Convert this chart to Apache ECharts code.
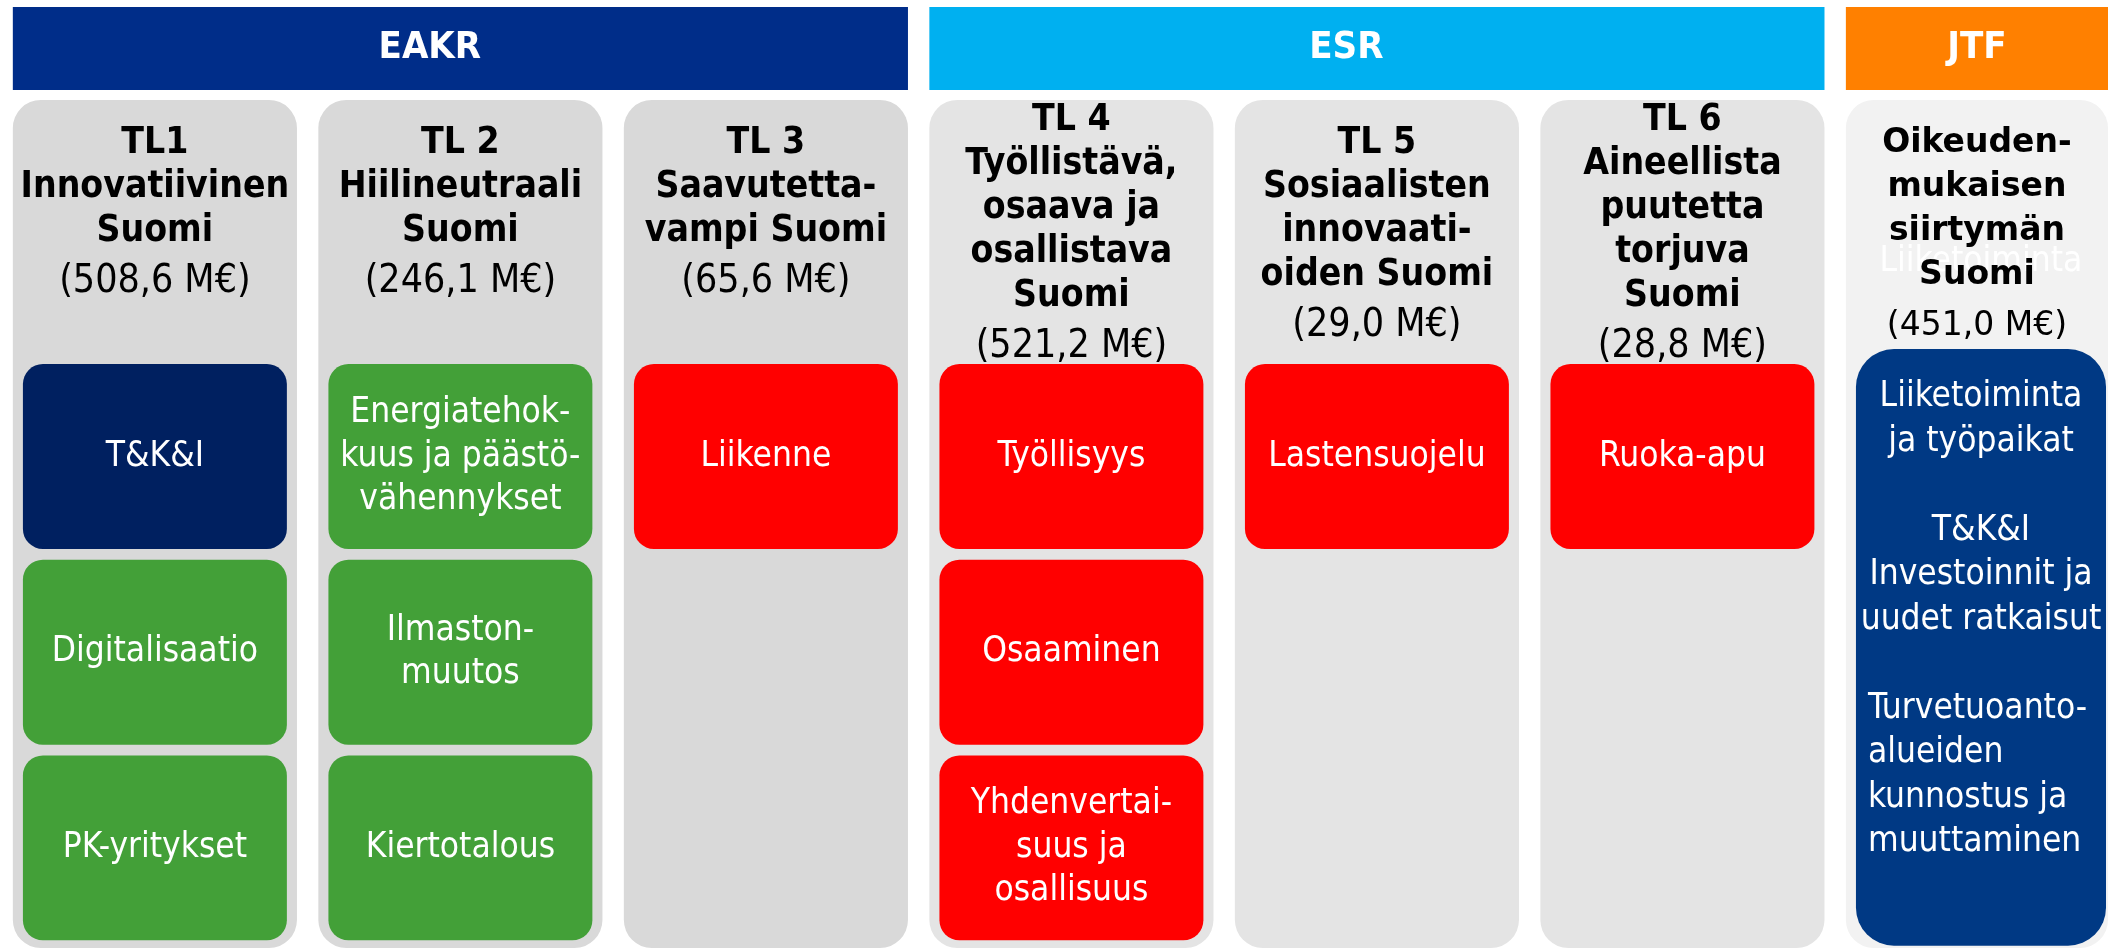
<!DOCTYPE html>
<html>
<head>
<meta charset="utf-8">
<title>Toimintalinjat 2021–2027</title>
<script src="https://cdn.jsdelivr.net/npm/echarts@6/dist/echarts.min.js"></script>
<style>
  html, body { margin: 0; padding: 0; background: #fff; }
  #chart { width: 2108px; height: 951px; }
</style>
</head>
<body>
<div id="chart"></div>
<script>
// rahastot
const fundNames = ['EAKR', 'ESR', 'JTF']
const fundFirstCol = [0, 3, 6]
const fundLastCol = [2, 5, 6]

// toimintalinjat
const axisTitles = [
  'TL1\nInnovatiivinen\nSuomi',
  'TL 2\nHiilineutraali\nSuomi',
  'TL 3\nSaavutetta-\nvampi Suomi',
  'TL 4\nTyöllistävä,\nosaava ja\nosallistava\nSuomi',
  'TL 5\nSosiaalisten\ninnovaati-\noiden Suomi',
  'TL 6\nAineellista\npuutetta\ntorjuva\nSuomi',
  'Oikeuden-\nmukaisen\nsiirtymän\nSuomi'
]
const axisBudget = [508.6, 246.1, 65.6, 521.2, 29.0, 28.8, 451.0] // M€
const axisFund = [0, 0, 0, 1, 1, 1, 2]

// teemat laatikoissa
const topicCol = [0, 0, 0, 1, 1, 1, 2, 3, 3, 3, 4, 5]
const topicRow = [0, 1, 2, 0, 1, 2, 0, 0, 1, 2, 0, 0]
const topicLabels = [
  'T&K&I', 'Digitalisaatio', 'PK-yritykset',
  'Energiatehok-\nkuus ja päästö-\nvähennykset', 'Ilmaston-\nmuutos', 'Kiertotalous',
  'Liikenne',
  'Työllisyys', 'Osaaminen', 'Yhdenvertai-\nsuus ja\nosallisuus',
  'Lastensuojelu',
  'Ruoka-apu'
]
const topicTheme = ['tki', 'green', 'green', 'green', 'green', 'green', 'red', 'red', 'red', 'red', 'red', 'red']

// JTF:n iso laatikko
const jtfCol = 6
const jtfTopics = ['Liiketoiminta\nja työpaikat', 'T&K&I\nInvestoinnit ja\nuudet ratkaisut', 'Turvetuoanto-\nalueiden\nkunnostus ja\nmuuttaminen']

// --- tyylit ja asettelu ---
const FUND_COLORS = ['#002D89', '#00B0F0', '#FF8000']
const COLUMN_FILL = ['#D9D9D9', '#E4E4E4', '#F2F2F2']
const THEME_COLORS = { tki: '#002060', green: '#43A038', red: '#FF0000' }
const JTF_BOX = '#003984'
const NARROW = "'DejaVu Sans Condensed', 'Liberation Sans', sans-serif"
const WIDE = "'DejaVu Sans', Verdana, sans-serif"

const L = {
  xMin: -0.507, xMax: 6.393,
  yMin: -2.333, yMax: 2.527,
  headTop: -2.297, headBottom: -1.873,
  colTop: -1.822, colBottom: 2.512,
  colWidth: 0.93,
  boxWidth: 0.864, boxHeight: 0.945,
  jtfTop: -0.549, jtfBottom: 2.5
}

const fmt = v => '(' + v.toFixed(1).replace('.', ',') + ' M€)'

function renderFund (params, api) {
  const cs = params.coordSys
  const first = api.value(0)
  const last = api.value(1)
  const i = api.value(2)
  const a = api.coord([first - L.colWidth / 2, L.headTop])
  const b = api.coord([last + L.colWidth / 2, L.headBottom])
  const x1 = Math.min(b[0], cs.x + cs.width)
  const shift = last > first ? -api.size([0.1, 0])[0] : 0
  return {
    type: 'group',
    children: [
      { type: 'rect', shape: { x: a[0], y: a[1], width: x1 - a[0], height: b[1] - a[1] }, style: { fill: FUND_COLORS[i] } },
      {
        type: 'text',
        style: {
          text: fundNames[i], x: (a[0] + x1) / 2 + shift, y: (a[1] + b[1]) / 2,
          align: 'center', verticalAlign: 'middle',
          fill: '#fff', font: 'bold 38px ' + NARROW
        }
      }
    ]
  }
}

function renderColumn (params, api) {
  const cs = params.coordSys
  const i = api.value(0)
  const fund = axisFund[i]
  const top = api.coord([i, L.colTop])
  const bot = api.coord([i, L.colBottom])
  const half = api.size([L.colWidth, 0])[0] / 2
  const x0 = top[0] - half
  const x1 = Math.min(top[0] + half, cs.x + cs.width)
  const cx = (x0 + x1) / 2
  const lines = axisTitles[i].split('\n')
  const wide = fund === 2
  const family = wide ? WIDE : NARROW
  const text = lines.map(s => '{t|' + s + '}').join('\n') + '\n{a|' + fmt(axisBudget[i]) + '}'
  const children = [
    { type: 'rect', shape: { x: x0, y: top[1], width: x1 - x0, height: bot[1] - top[1], r: 28 }, style: { fill: COLUMN_FILL[fund] } }
  ]
  if (i === jtfCol) {
    // haamuteksti sarakkeen takana
    children.push({
      type: 'text',
      style: { text: jtfTopics[0].split('\n')[0], x: cx + 4, y: top[1] + 162, align: 'center', verticalAlign: 'middle', fill: '#FFFFFF', font: '35px ' + NARROW }
    })
  }
  children.push({
    type: 'text',
    style: {
      text, x: cx, y: top[1] + (lines.length > 4 ? -2 : 21),
      align: 'center', verticalAlign: 'top',
      rich: {
        t: { fontFamily: family, fontWeight: 'bold', fontSize: wide ? 33 : 37, lineHeight: 44, fill: '#000' },
        a: { fontFamily: family, fontSize: wide ? 33 : 39, lineHeight: 58, fill: '#000' }
      }
    }
  })
  return { type: 'group', children }
}

function renderTopic (params, api) {
  const c = api.coord([api.value(0), api.value(1)])
  const s = api.size([L.boxWidth, L.boxHeight])
  const i = api.value(2)
  return {
    type: 'group',
    children: [
      { type: 'rect', shape: { x: c[0] - s[0] / 2, y: c[1] - s[1] / 2, width: s[0], height: s[1], r: 20 }, style: { fill: THEME_COLORS[topicTheme[i]] } },
      {
        type: 'text',
        style: {
          text: topicLabels[i], x: c[0], y: c[1],
          align: 'center', verticalAlign: 'middle',
          fill: '#fff', font: '35px ' + NARROW, lineHeight: 43.5
        }
      }
    ]
  }
}

function renderJtf (params, api) {
  const cs = params.coordSys
  const col = api.value(0)
  const a = api.coord([col - L.boxWidth / 2, L.jtfTop])
  const b = api.coord([col, L.jtfBottom])
  const x1 = cs.x + cs.width - 2
  const lh = 44.5
  const head = jtfTopics[0] + '\n\n' + jtfTopics[1]
  const headLines = head.split('\n').length
  return {
    type: 'group',
    children: [
      { type: 'rect', shape: { x: a[0], y: a[1], width: x1 - a[0], height: b[1] - a[1], r: 38 }, style: { fill: JTF_BOX } },
      {
        type: 'text',
        style: { text: head, x: (a[0] + x1) / 2, y: a[1] + 26, align: 'center', verticalAlign: 'top', fill: '#fff', font: '35px ' + NARROW, lineHeight: lh }
      },
      {
        type: 'text',
        style: { text: jtfTopics[2], x: a[0] + 12, y: a[1] + 26 + (headLines + 1) * lh, align: 'left', verticalAlign: 'top', fill: '#fff', font: '35px ' + NARROW, lineHeight: lh }
      }
    ]
  }
}

const chart = echarts.init(document.getElementById('chart'))
chart.setOption({
  animation: false,
  grid: { left: 0, right: 0, top: 0, bottom: 0 },
  xAxis: { type: 'value', min: L.xMin, max: L.xMax, show: false },
  yAxis: { type: 'value', inverse: true, min: L.yMin, max: L.yMax, show: false },
  series: [
    {
      type: 'custom',
      renderItem: renderColumn,
      encode: { x: 0 },
      data: axisTitles.map((t, i) => [i, 0])
    },
    {
      type: 'custom',
      renderItem: renderFund,
      encode: { x: [0, 1] },
      data: fundNames.map((n, i) => [fundFirstCol[i], fundLastCol[i], i])
    },
    {
      type: 'custom',
      renderItem: renderTopic,
      encode: { x: 0, y: 1 },
      data: topicLabels.map((t, i) => [topicCol[i], topicRow[i], i])
    },
    {
      type: 'custom',
      renderItem: renderJtf,
      encode: { x: 0 },
      data: [[jtfCol, 0]]
    }
  ]
})
</script>
</body>
</html>
